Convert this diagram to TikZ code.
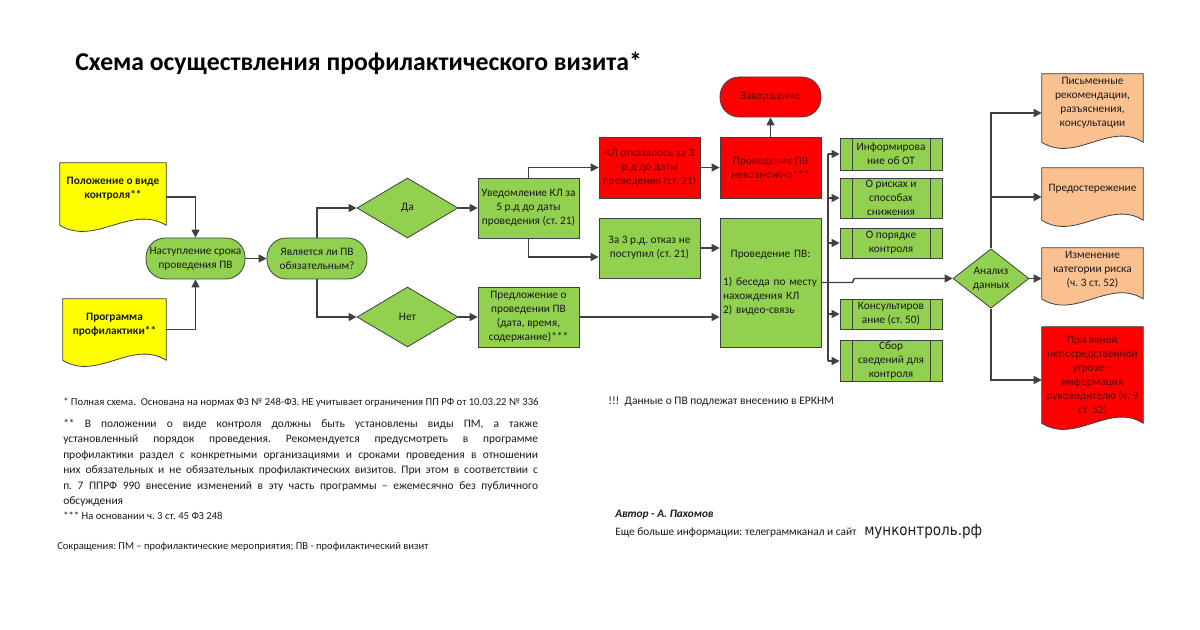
\documentclass[tikz,border=0pt]{standalone}
\usepackage{fontspec}
\setmainfont{Carlito}
\newfontfamily\dejavu[FakeStretch=0.88]{DejaVu Sans}
\usetikzlibrary{shapes.geometric,arrows.meta,calc}
\pgfdeclarelayer{bg}
\pgfsetlayers{bg,main}
\setlength\parindent{0pt}
\frenchspacing

\definecolor{gfill}{HTML}{92D050}
\definecolor{rfill}{HTML}{FF0000}
\definecolor{yfill}{HTML}{FFFF00}
\definecolor{ofill}{HTML}{FAC090}
\definecolor{edge}{HTML}{404040}
\definecolor{rtext}{HTML}{640000}
\definecolor{ctext}{HTML}{1A1A1A}

\tikzset{
  box/.style={draw=edge, line width=0.6pt, align=center, inner sep=1pt,
    font=\fontsize{8.5}{10.5}\selectfont, text=ctext},
  gbox/.style={box, fill=gfill, minimum width=75.75pt},
  rbox/.style={box, fill=rfill, minimum width=75.75pt, text=rtext},
  stad/.style={box, rounded corners=14.5pt, minimum height=30.75pt},
  dia/.style={box, diamond, fill=gfill, inner sep=0pt},
  pbox/.style={gbox, minimum width=76.5pt},
  docnode/.style={align=center, inner sep=1pt, font=\fontsize{8.5}{10.5}\selectfont,
    text=ctext, minimum width=75.75pt},
  ydoc/.style={docnode, font=\fontsize{8.5}{10.5}\selectfont\bfseries},
  conn/.style={draw=edge, line width=1.1pt},
  arr/.style={conn, -{Triangle[length=6pt,width=6pt]}},
  note/.style={anchor=base west, inner sep=0pt, font=\fontsize{8}{9.5}\selectfont, text=ctext},
}

% #1 node, #2 fill, #3 drop of the wave's mean line below the node
\newcommand\docpath[3]{%
  \draw[draw=edge, line width=0.6pt, fill=#2]
    (#1.north west) -- (#1.north east) -- ([yshift=-#3]#1.south east)
    .. controls ($([yshift=-#3]#1.south east)!0.333!([yshift=-#3]#1.south west)+(0pt,16pt)$)
    and ($([yshift=-#3]#1.south east)!0.667!([yshift=-#3]#1.south west)+(0pt,-16pt)$)
    .. ([yshift=-#3]#1.south west) -- cycle;}

\begin{document}
\begin{tikzpicture}[x=0.75pt,y=-0.75pt]
\useasboundingbox (0,0) rectangle (1200,630);

% title
\node[anchor=base west, inner sep=0pt, font=\fontsize{19.3}{22}\selectfont\bfseries] (title) at (75,71)
  {Схема осуществления профилактического визита*};

% left documents
\node[ydoc, minimum width=79.5pt, minimum height=39pt] (pol) at (113,189) {Положение о виде\\контроля**};
\node[ydoc, minimum width=77.25pt, minimum height=38.25pt] (prog) at (114.5,324.5) {Программа\\профилактики**};

% flow
\node[stad, fill=gfill, minimum width=74.25pt] (nast) at (195.5,258.5) {Наступление срока\\проведения ПВ};
\node[stad, fill=gfill, minimum width=75pt] (yav) at (317,258.5) {Является ли ПВ\\обязательным?};
\node[dia, minimum width=75.75pt, minimum height=45pt] (da) at (407.5,208) {Да};
\node[dia, minimum width=75.75pt, minimum height=45pt] (net) at (407.5,317) {Нет};
\node[gbox, minimum height=45pt] (uved) at (528.5,208) {Уведомление КЛ за\\5 р.д до даты\\проведения (ст. 21)};
\node[gbox, minimum height=45pt] (pred) at (528.5,317) {Предложение о\\проведении ПВ\\(дата, время,\\содержание)***};
\node[rbox, minimum height=45.75pt] (otk) at (649.5,167.5) {КЛ отказалось за 3\\р.д до даты\\проведения (ст. 21)};
\node[gbox, minimum height=45pt] (za3) at (649.5,248) {За 3 р.д. отказ не\\поступил (ст. 21)};
\node[rbox, minimum height=45.75pt] (nev) at (770.5,167.5) {Проведение ПВ\\невозможно***};
\node[stad, fill=rfill, text=rtext, minimum width=75.75pt, minimum height=30pt] (zav) at (770.5,97) {Завершение};
\node[gbox, minimum height=96.75pt, text width=71pt, align=left, inner sep=2.25pt] (prov) at (770.5,282.5)
  {{\centering Проведение ПВ:\par}\vspace{10.5pt}1)~беседа по месту\\нахождения КЛ\\2) видео-связь};

% predefined process boxes
\node[pbox, minimum height=24pt] (i1) at (891,154) {Информирова\\ние об ОТ};
\node[pbox, minimum height=30pt] (i2) at (891,198) {О рисках и\\способах\\снижения};
\node[pbox, minimum height=22.5pt] (i3) at (891,243) {О порядке\\контроля};
\node[pbox, minimum height=22.5pt] (i4) at (891,314) {Консультиров\\ание (ст. 50)};
\node[pbox, minimum height=28.5pt] (i5) at (891,361) {Сбор\\сведений для\\контроля};
\foreach \n in {i1,i2,i3,i4,i5}{
  \draw[draw=edge, line width=0.6pt] ([xshift=9.75pt]\n.north west) -- ([xshift=9.75pt]\n.south west);
  \draw[draw=edge, line width=0.6pt] ([xshift=-9pt]\n.north east) -- ([xshift=-9pt]\n.south east);
}

\node[dia, minimum width=57pt, minimum height=44.25pt] (an) at (991,278.5) {Анализ\\данных};

% right documents
\node[docnode, minimum height=43.5pt] (d1) at (1092.5,103) {Письменные\\рекомендации,\\разъяснения,\\консультации};
\node[docnode, minimum height=31.5pt] (d2) at (1092.5,189) {Предостережение};
\node[docnode, minimum height=33pt] (d3) at (1092.5,270) {Изменение\\категории риска\\(ч. 3 ст. 52)};
\node[docnode, minimum height=72pt, text=rtext] (d4) at (1092.5,375) {При явной\\непосредственной\\угрозе –\\информация\\руководителю (ч. 9\\ст. 52)};

\begin{pgfonlayer}{bg}
  \docpath{pol}{yfill}{7.5pt}
  \docpath{prog}{yfill}{7.5pt}
  \docpath{d1}{ofill}{7.5pt}
  \docpath{d2}{ofill}{7.5pt}
  \docpath{d3}{ofill}{5pt}
  \docpath{d4}{rfill}{0pt}
\end{pgfonlayer}

% connectors
\draw[arr] ($(pol.east)+(0,8)$) -| (nast.north);
\draw[arr] ($(prog.east)+(0,5)$) -| (nast.south);
\draw[arr] (nast) -- (yav);
\draw[arr] (yav.north) |- (da.west);
\draw[arr] (yav.south) |- (net.west);
\draw[arr] (da) -- (uved);
\draw[arr] (net) -- (pred);
\draw[arr] (uved.north) |- (otk.west);
\draw[arr] (uved.south) |- ($(za3.west)+(0,9)$);
\draw[arr] (otk) -- (nev);
\draw[arr] (nev) -- (zav);
\draw[arr] (za3.east) -- (za3.east -| prov.west);
\draw[arr] (pred.east) -- (pred.east -| prov.west);

\coordinate (bus) at (828,282.5);
\draw[conn] (bus |- i1.west) -- (bus |- i5.west);
\foreach \n in {i1,i2,i3,i4,i5}{
  \draw[arr] (bus |- \n.west) -- (\n.west);
}
\draw[arr] (prov.east) -- ++(31,0) -- ++(2,-4) -- (an.west);

\draw[arr] (an.north) |- ($(d1.west)+(0,10)$);
\draw[arr] ($(an.north |- d2.west)+(0,8)$) -- ($(d2.west)+(0,8)$);
\draw[arr] (an.east) -- (an.east -| d3.west);
\draw[arr] (an.south) |- ($(d4.west)+(0,5)$);

% notes
\node[note] (n1) at (63,406) {* Полная схема.\ \ Основана на нормах ФЗ № 248-ФЗ. НЕ учитывает ограничения ПП РФ от 10.03.22 № 336};
\node[anchor=north west, inner sep=0pt, text width=356pt, align=justify, text=ctext,
  font=\fontsize{8.6}{11.6}\selectfont] (n2) at (63,419)
  {** В положении о виде контроля должны быть установлены виды ПМ, а также\linebreak
   установленный порядок проведения. Рекомендуется предусмотреть в программе\linebreak
   профилактики раздел с конкретными организациями и сроками проведения в отношении\linebreak
   них обязательных и не обязательных профилактических визитов. При этом в соответствии с\linebreak
   п. 7 ППРФ 990 внесение изменений в эту часть программы – ежемесячно без публичного\linebreak
   обсуждения};
\node[note] (n3) at (63,520) {*** На основании ч. 3 ст. 45 ФЗ 248};
\node[note, font=\fontsize{7.9}{9.5}\selectfont] (n4) at (57,550) {Сокращения: ПМ – профилактические мероприятия; ПВ - профилактический визит};
\node[note, font=\fontsize{8.6}{10}\selectfont] (n5) at (608,405) {!!!\ \ Данные о ПВ подлежат внесению в ЕРКНМ};
\node[note, font=\fontsize{8.5}{10}\selectfont\bfseries\itshape] (n6) at (615,518) {Автор - А. Пахомов};
\node[note, font=\fontsize{8.5}{10}\selectfont] (n7) at (615,536) {Еще больше информации: телеграммканал и сайт};
\node[note, font=\fontsize{11.5}{13}\dejavu] (n8) at (864,536) {мунконтроль.рф};
\end{tikzpicture}
\end{document}
